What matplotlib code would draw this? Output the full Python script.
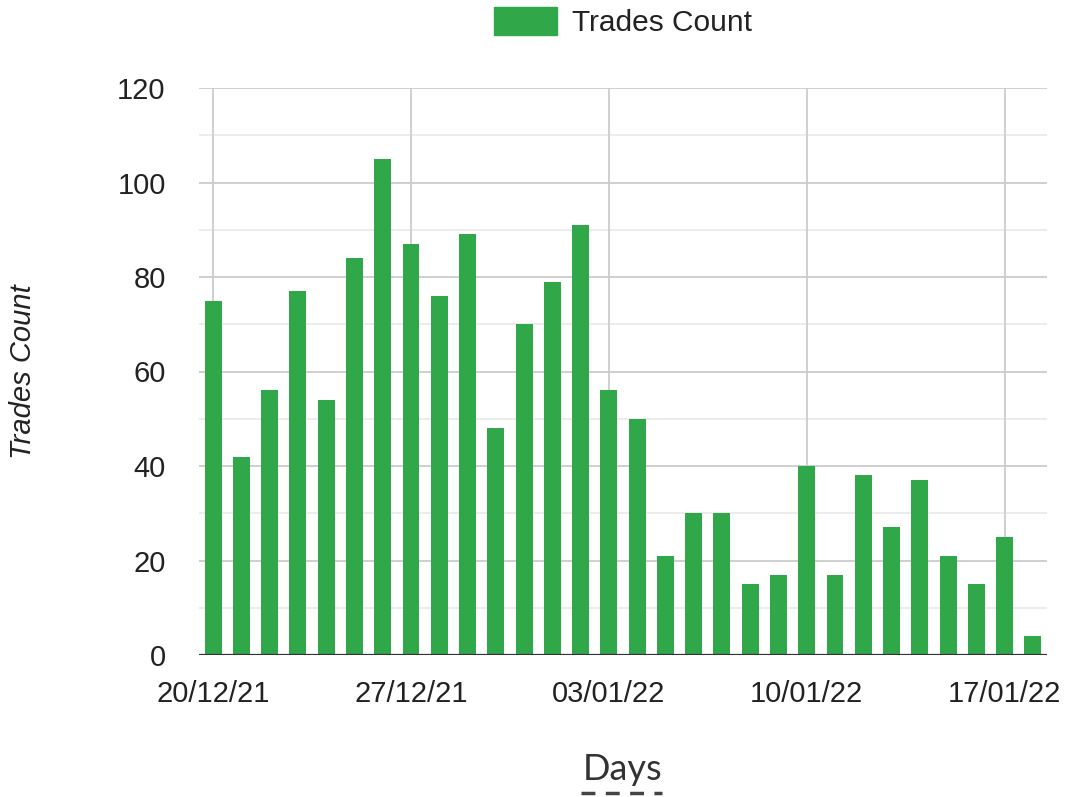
import matplotlib
matplotlib.use("Agg")
import matplotlib.pyplot as plt
from matplotlib.patches import Patch
from matplotlib.lines import Line2D

# daily trade counts, 20/12/21 .. 18/01/22
trades = [75, 42, 56, 77, 54, 84, 105, 87, 76, 89,
          48, 70, 79, 91, 56, 50, 21, 30, 30, 15,
          17, 40, 17, 38, 27, 37, 21, 15, 25, 4]
tick_pos = [0, 7, 14, 21, 28]
tick_labels = ["20/12/21", "27/12/21", "03/01/22", "10/01/22", "17/01/22"]
y_ticks = [0, 20, 40, 60, 80, 100, 120]

bar_color = "#30a84a"
text_color = "#222222"

plt.rcParams["font.family"] = ["Liberation Sans", "DejaVu Sans"]

fig = plt.figure(figsize=(10.65, 7.97), dpi=100)
ax = fig.add_axes([199 / 1065, 142 / 797, 848 / 1065, 567 / 797])

days = list(range(len(trades)))
ax.bar(days, trades, width=0.6, color=bar_color, zorder=3)

ax.set_xlim(-0.5, len(trades) - 0.5)
ax.set_ylim(0, 120)

# grid lines
for y in range(10, 120, 20):
    ax.axhline(y, color="#ebebeb", lw=1.3, zorder=1)
for y in y_ticks[1:]:
    ax.axhline(y, color="#cccccc", lw=1.3, zorder=1)
for x in tick_pos:
    ax.axvline(x, color="#cccccc", lw=1.3, zorder=1)
ax.axhline(0, color="#333333", lw=1.6, zorder=4)

ax.set_xticks(tick_pos)
ax.set_xticklabels(tick_labels)
ax.set_yticks(y_ticks)
ax.tick_params(axis="both", length=0, labelsize=21, colors=text_color)
ax.tick_params(axis="x", pad=18)
ax.tick_params(axis="y", pad=24)
for s in ax.spines.values():
    s.set_visible(False)

ax.set_ylabel("Trades Count", fontsize=21, style="italic", color=text_color, labelpad=58)

# x axis title with dashed underline
fig.text(623 / 1065, 1 - 769 / 797, "Days", fontsize=26, family=["Lato", "DejaVu Sans"],
         color="#333333", ha="center", va="center")
fig.add_artist(Line2D([581 / 1065, 662 / 1065], [1 - 793 / 797, 1 - 793 / 797],
                      transform=fig.transFigure, color="#444444", lw=2.5,
                      linestyle=(0, (4, 3))))

handle = Patch(facecolor=bar_color, edgecolor=bar_color)
fig.legend([handle], ["Trades Count"], loc="center", bbox_to_anchor=(623 / 1065, 1 - 22 / 797),
           frameon=False, fontsize=21.5, handlelength=2.1, handleheight=1.1,
           handletextpad=0.5, labelcolor=text_color)

fig.savefig("out.png", dpi=100)
